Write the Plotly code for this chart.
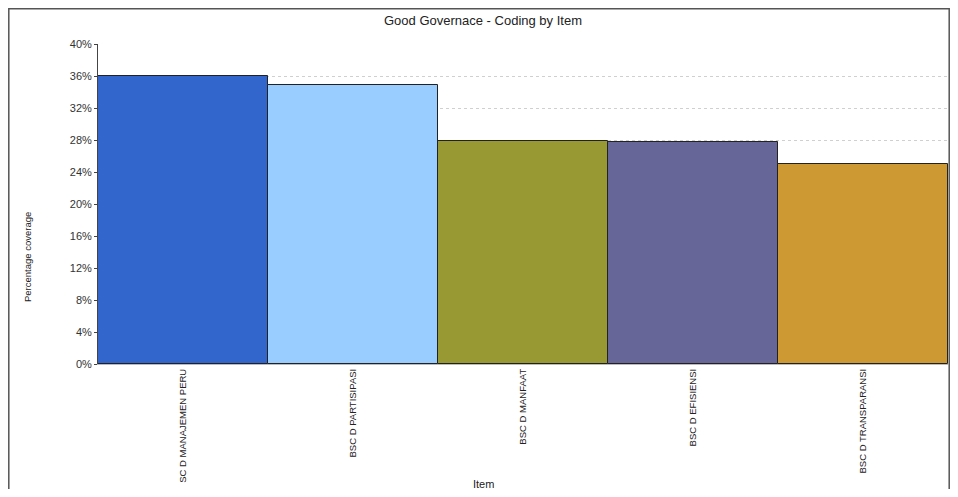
import plotly.graph_objects as go

# ── Data ──────────────────────────────────────────────────────────────────
ITEMS = ["SC D MANAJEMEN PERU", "BSC D PARTISIPASI", "BSC D MANFAAT",
         "BSC D EFISIENSI", "BSC D TRANSPARANSI"]
COVERAGE = [36.0, 34.9, 27.9, 27.8, 25.05]
COLORS = ["#3366CC", "#99CCFF", "#999933", "#666699", "#CC9933"]
Y_TICKS = list(range(0, 41, 4))

# page has an 8px body margin, so the figure is shifted by OFF
OFF = 8
W, H = 958 - 2 * OFF, 497 - 2 * OFF
# plot area in page pixels: x 98..948, y 44..364
L, R, T, B = 98 - OFF, W - (948 - OFF), 44 - OFF, H - (364 - OFF)


def px(x):
    return (x - OFF - L) / (W - L - R)


def py(y):
    return (H - B - (y - OFF)) / (H - T - B)


fig = go.Figure(go.Bar(
    x=ITEMS, y=COVERAGE,
    marker=dict(color=COLORS, line=dict(color="#222222", width=1)),
    width=1,
))

fig.update_layout(
    width=W, height=H,
    margin=dict(l=L, r=R, t=T, b=B, autoexpand=False),
    plot_bgcolor="white", paper_bgcolor="white",
    bargap=0, showlegend=False,
    font=dict(family="Liberation Sans, Arial", color="#333333"),
    title=dict(text="Good Governace - Coding by Item", x=px(483), xanchor="center",
               xref="paper", y=1 - (20 - OFF) / H, yanchor="middle",
               font=dict(size=13, color="#222222")),
)

fig.update_yaxes(
    range=[0, 40], tickvals=Y_TICKS, ticktext=[f"{v}%" for v in Y_TICKS],
    showgrid=True, gridcolor="#d0d0d0", griddash="dot", gridwidth=1,
    showline=True, linecolor="#444444", linewidth=1,
    ticks="outside", ticklen=3, tickcolor="#444444",
    tickfont=dict(size=11, color="#333333"),
    zeroline=False, automargin=False,
)
fig.update_xaxes(
    range=[-0.5, 4.5], tickangle=-90,
    tickfont=dict(size=9.5, family="Liberation Sans, Arial", color="#222222"),
    showline=True, linecolor="#bbbbbb", linewidth=1, ticks="",
    automargin=False,
)

# Axis titles
fig.add_annotation(text="Percentage coverage", xref="paper", yref="paper",
                   x=px(27), y=py(257), xanchor="center", yanchor="middle",
                   textangle=-90, showarrow=False,
                   font=dict(size=9.5, family="Liberation Sans, Arial", color="#222222"))
fig.add_annotation(text="Item", xref="paper", yref="paper",
                   x=px(483), y=py(484), xanchor="center", yanchor="middle",
                   showarrow=False,
                   font=dict(size=11, color="#222222"))

# Outer frame (open at the bottom)
fig.add_shape(type="rect", xref="paper", yref="paper",
              x0=px(8.8), x1=px(949.2), y0=py(520), y1=py(8.8),
              line=dict(color="#555555", width=1.5), layer="below")

fig.write_html("out.html")
